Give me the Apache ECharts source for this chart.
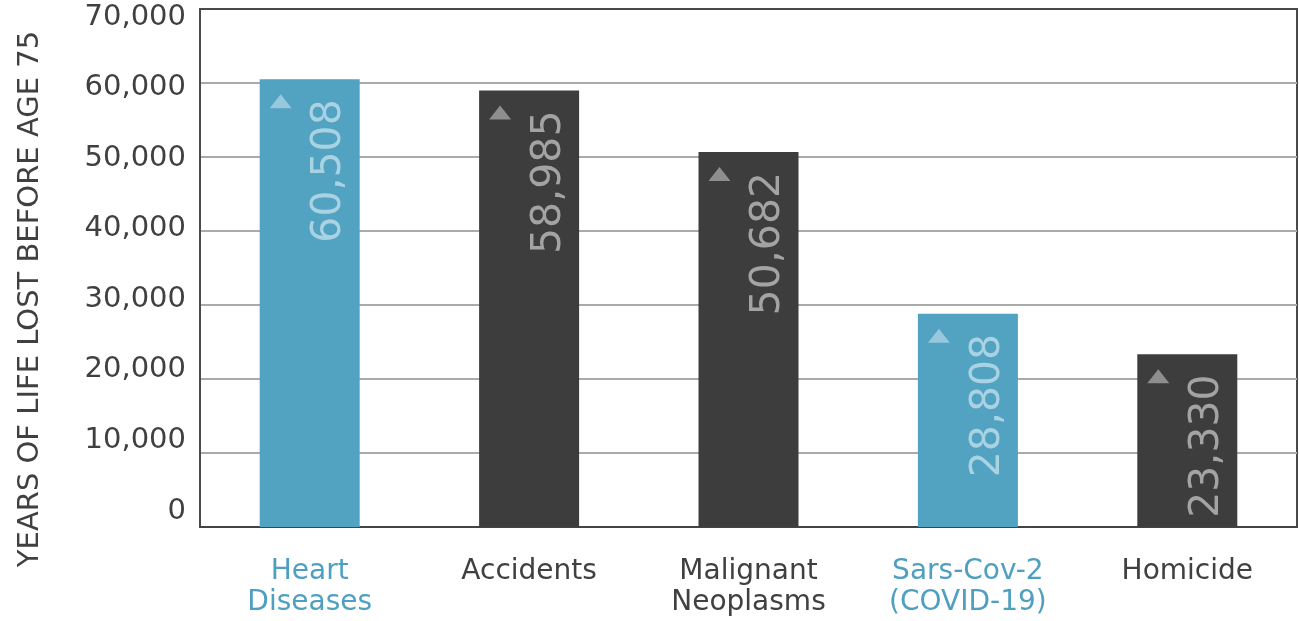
<!DOCTYPE html>
<html>
<head>
<meta charset="utf-8">
<script src="https://cdn.jsdelivr.net/npm/echarts@6/dist/echarts.min.js"></script>
<style>
html,body{margin:0;padding:0;background:#fff;}
#chart{width:1299px;height:621px;}
</style>
</head>
<body>
<div id="chart"></div>
<script>
// ---- data ----
const categories = ['Heart\nDiseases', 'Accidents', 'Malignant\nNeoplasms', 'Sars-Cov-2\n(COVID-19)', 'Homicide'];
const values = [60508, 58985, 50682, 28808, 23330];
const highlighted = [true, false, false, true, false];
const yTicks = [0, 10000, 20000, 30000, 40000, 50000, 60000, 70000];
const yAxisTitle = 'YEARS OF LIFE LOST BEFORE AGE 75';

// ---- styles ----
const BLUE = '#52A2C2', DARK = '#3D3D3D';
const BLUE_TEXT = '#4FA0C0', DARK_TEXT = '#404040';
const BLUE_LABEL = '#A9D2E3', DARK_LABEL = '#A3A3A3';
const FONT = 'DejaVu Sans';
const fmt = v => Number(v).toLocaleString('en-US');

const chart = echarts.init(document.getElementById('chart'));
chart.setOption({
  animation: false,
  textStyle: { fontFamily: FONT },
  grid: { left: 200, right: 2, top: 9, bottom: 94, show: true, borderColor: '#4a4a4a', borderWidth: 2,
          containLabel: false, outerBoundsMode: 'none' },
  xAxis: {
    type: 'category',
    data: categories.map((c, i) => ({ value: c, textStyle: { color: highlighted[i] ? BLUE_TEXT : DARK_TEXT } })),
    axisLine: { lineStyle: { color: '#444', width: 2 } },
    axisTick: { show: false },
    axisLabel: { fontSize: 28, margin: 29, lineHeight: 31, verticalAlign: 'top', interval: 0 }
  },
  yAxis: [{
    type: 'value', min: yTicks[0], max: yTicks[yTicks.length - 1], interval: 10000,
    axisLine: { show: true, lineStyle: { color: '#4a4a4a', width: 2 } },
    axisTick: { show: false },
    axisLabel: { show: false },
    splitLine: { showMinLine: false, showMaxLine: false, lineStyle: { color: '#AAAAAA', width: 2 } },
    name: yAxisTitle, nameLocation: 'middle', nameGap: 155,
    nameTextStyle: { fontSize: 29, color: DARK_TEXT, padding: [0, 62, 0, 0] }
  }, {
    type: 'value', position: 'left', min: -2267, max: 71134,
    axisLine: { show: false }, axisTick: { show: false }, splitLine: { show: false },
    axisLabel: { customValues: yTicks, formatter: fmt, fontSize: 29, color: DARK_TEXT, margin: 14 }
  }],
  series: [{
    type: 'bar',
    barWidth: 100,
    data: values.map((v, i) => ({
      value: v,
      itemStyle: { color: highlighted[i] ? BLUE : DARK },
      label: { color: highlighted[i] ? BLUE_LABEL : DARK_LABEL }
    })),
    label: {
      show: true, position: ['70%', 20], rotate: 90, align: 'right', verticalAlign: 'middle',
      fontSize: 41, formatter: p => fmt(p.value)
    },
    z: 2
  }, {
    type: 'scatter',
    symbol: 'triangle',
    symbolSize: [22, 14],
    symbolOffset: [-29, 22],
    data: values.map((v, i) => ({ value: v, itemStyle: { color: highlighted[i] ? BLUE_LABEL : DARK_LABEL } })),
    silent: true,
    z: 3
  }]
});
</script>
</body>
</html>
